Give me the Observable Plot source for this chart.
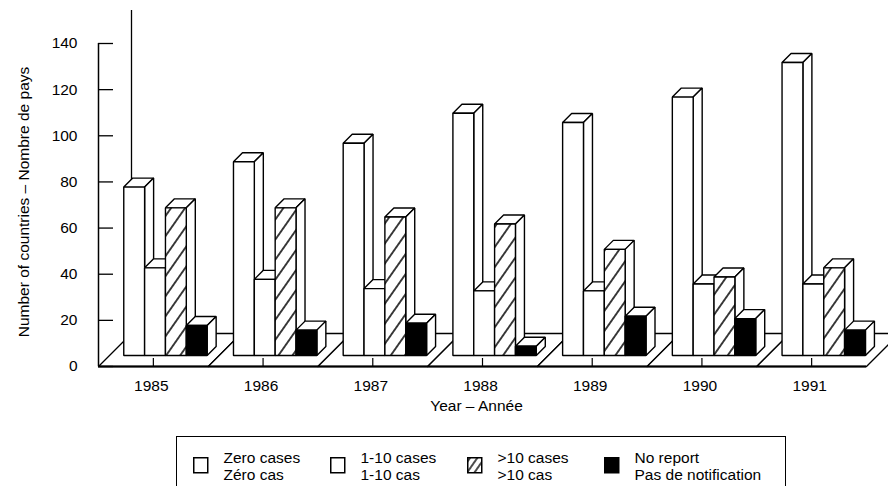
<!DOCTYPE html>
<html>
<head>
<meta charset="utf-8">
<script src="https://cdn.jsdelivr.net/npm/d3@7"></script>
<script src="https://cdn.jsdelivr.net/npm/@observablehq/plot@0.6"></script>
<style>
  body { margin: 0; background: #fff; font-family: "Liberation Sans", Arial, Helvetica, sans-serif; }
  #wrap { position: relative; width: 888px; height: 486px; overflow: hidden; background: #fff; }
  #legend { position: absolute; left: 176px; top: 436px; width: 610px; height: 60px;
            border: 1.5px solid #000; border-bottom: none; box-sizing: border-box; }
  .sw { position: absolute; top: 20px; }
  .txt { position: absolute; top: 11.5px; font-size: 15.5px; line-height: 17px; color: #000; white-space: nowrap; }
</style>
</head>
<body>
<svg width="0" height="0" style="position:absolute">
  <defs>
    <pattern id="hatch" patternUnits="userSpaceOnUse" width="11.5" height="11.5" patternTransform="rotate(35)">
      <rect width="11.5" height="11.5" fill="white"></rect>
      <line x1="5.75" y1="-1" x2="5.75" y2="12.5" stroke="black" stroke-width="1.5"></line>
    </pattern>
    <pattern id="hatchSmall" patternUnits="userSpaceOnUse" width="6" height="6" patternTransform="rotate(35)">
      <rect width="6" height="6" fill="white"></rect>
      <line x1="3" y1="-1" x2="3" y2="7" stroke="black" stroke-width="1.4"></line>
    </pattern>
  </defs>
</svg>
<div id="wrap">
  <div id="chart"></div>
  <div id="legend"></div>
</div>
<script>
// ---- data ----
const years = ["1985", "1986", "1987", "1988", "1989", "1990", "1991"];
const zeroCases = [73, 84, 92, 105, 101, 112, 127];
const oneToTen  = [38, 33, 29, 28, 28, 31, 31];
const overTen   = [64, 64, 60, 57, 46, 34, 38];
const noReport  = [13, 11, 14, 4, 17, 16, 11];
const seriesNames = [
  ["Zero cases", "Zéro cas"],
  ["1-10 cases", "1-10 cas"],
  [">10 cases", ">10 cas"],
  ["No report", "Pas de notification"]
];
const yTicks = [0, 20, 40, 60, 80, 100, 120, 140];
const yLabel = "Number of countries – Nombre de pays";
const xLabel = "Year – Année";

// ---- layout / style ----
const W = 888, H = 424, mL = 98, mR = 22, mT = 43, mB = 58;
const FS = 15.5;
const xDomain = [-0.5, years.length - 0.5];
const yDomain = [0, 140];
const kx = (W - mL - mR) / (xDomain[1] - xDomain[0]);   // px per x unit
const ky = (H - mT - mB) / (yDomain[1] - yDomain[0]);   // px per y unit
const FRONT = 11, BACK = 20, FLOOR = 33;                // oblique depths in px
const BW = 0.19, START = -0.37;
const fills = ["white", "white", "url(#hatch)", "black"];
const legendFills = ["white", "white", "url(#hatchSmall)", "black"];
const series = [zeroCases, oneToTen, overTen, noReport];

// point projected at depth d (45° oblique)
const pt = (x, y, d, face, fill) => ({x: x + d / kx, y: y + d / ky, face, fill});

const floor = [];
years.forEach((_, i) => {
  const id = "floor" + i;
  floor.push(pt(i - 0.5, 0, 0, id, "white"), pt(i + 0.5, 0, 0, id, "white"),
             pt(i + 0.5, 0, FLOOR, id, "white"), pt(i - 0.5, 0, FLOOR, id, "white"));
});

const faces = [];
years.forEach((_, i) => series.forEach((vals, j) => {
  const v = vals[i], x1 = i + START + j * BW, x2 = x1 + BW, id = i + "-" + j;
  faces.push(pt(x1, v, FRONT, id + "t", "white"), pt(x2, v, FRONT, id + "t", "white"),
             pt(x2, v, BACK, id + "t", "white"), pt(x1, v, BACK, id + "t", "white"));
  faces.push(pt(x2, 0, FRONT, id + "s", "white"), pt(x2, v, FRONT, id + "s", "white"),
             pt(x2, v, BACK, id + "s", "white"), pt(x2, 0, BACK, id + "s", "white"));
  faces.push(pt(x1, 0, FRONT, id + "f", fills[j]), pt(x2, 0, FRONT, id + "f", fills[j]),
             pt(x2, v, FRONT, id + "f", fills[j]), pt(x1, v, FRONT, id + "f", fills[j]));
}));

const chart = Plot.plot({
  width: W, height: H,
  marginLeft: mL, marginRight: mR, marginTop: mT, marginBottom: mB,
  x: {domain: xDomain},
  y: {domain: yDomain},
  color: {type: "identity"},
  style: {fontFamily: "'Liberation Sans', Arial, Helvetica, sans-serif", fontSize: FS + "px", color: "black", background: "white"},
  marks: [
    // back wall edge
    Plot.ruleX([xDomain[0]], {x: d => d, y1: yDomain[0], y2: yDomain[1], dx: FLOOR, dy: -FLOOR, stroke: "black", strokeWidth: 1.3}),
    // floor panels
    Plot.line(floor, {x: "x", y: "y", z: "face", fill: "fill", stroke: "black", strokeWidth: 1.3, curve: "linear-closed"}),
    Plot.ruleY([0], {x1: xDomain[0], x2: xDomain[1], stroke: "black", strokeWidth: 2.2}),
    // y axis line and inward ticks
    Plot.ruleX([xDomain[0]], {x: d => d, y1: yDomain[0], y2: yDomain[1], stroke: "black", strokeWidth: 1.5}),
    Plot.ruleY(yTicks, {y: d => d, x1: xDomain[0], x2: xDomain[0] + 15 / kx, stroke: "black", strokeWidth: 1.3}),
    Plot.ruleX(d3.range(years.length), {x: d => d, y1: 0, y2: 8 / ky, stroke: "black", strokeWidth: 1.2}),
    // bars
    Plot.line(faces, {x: "x", y: "y", z: "face", fill: "fill", stroke: "black", strokeWidth: 1.4, curve: "linear-closed", strokeLinejoin: "miter"}),
    // axes
    Plot.axisY(yTicks, {tickSize: 0, tickPadding: 21, label: null, fontSize: FS}),
    Plot.axisX(d3.range(years.length), {tickSize: 0, tickPadding: 13, tickFormat: i => years[i], label: null, dx: -2, fontSize: FS}),
    Plot.text([xLabel], {text: d => d, frameAnchor: "bottom", dy: 44, dx: -6, fontSize: FS, textAnchor: "middle"}),
    Plot.text([yLabel], {text: d => d, frameAnchor: "left", rotate: -90, dx: -74, dy: -3, fontSize: FS, textAnchor: "middle"})
  ]
});
document.getElementById("chart").appendChild(chart);

// legend
const legend = d3.select("#legend");
seriesNames.forEach(([en, fr], j) => {
  const left = 15.5 + j * 137;
  const sw = legend.append("svg").attr("class", "sw").attr("width", 16).attr("height", 17)
    .style("left", left + "px");
  sw.append("rect").attr("x", 0.75).attr("y", 0.75).attr("width", 14).attr("height", 15)
    .attr("fill", legendFills[j]).attr("stroke", "black").attr("stroke-width", 1.5);
  legend.append("div").attr("class", "txt").style("left", (left + 31) + "px")
    .html(en + "<br>" + fr);
});
</script>
</body>
</html>
